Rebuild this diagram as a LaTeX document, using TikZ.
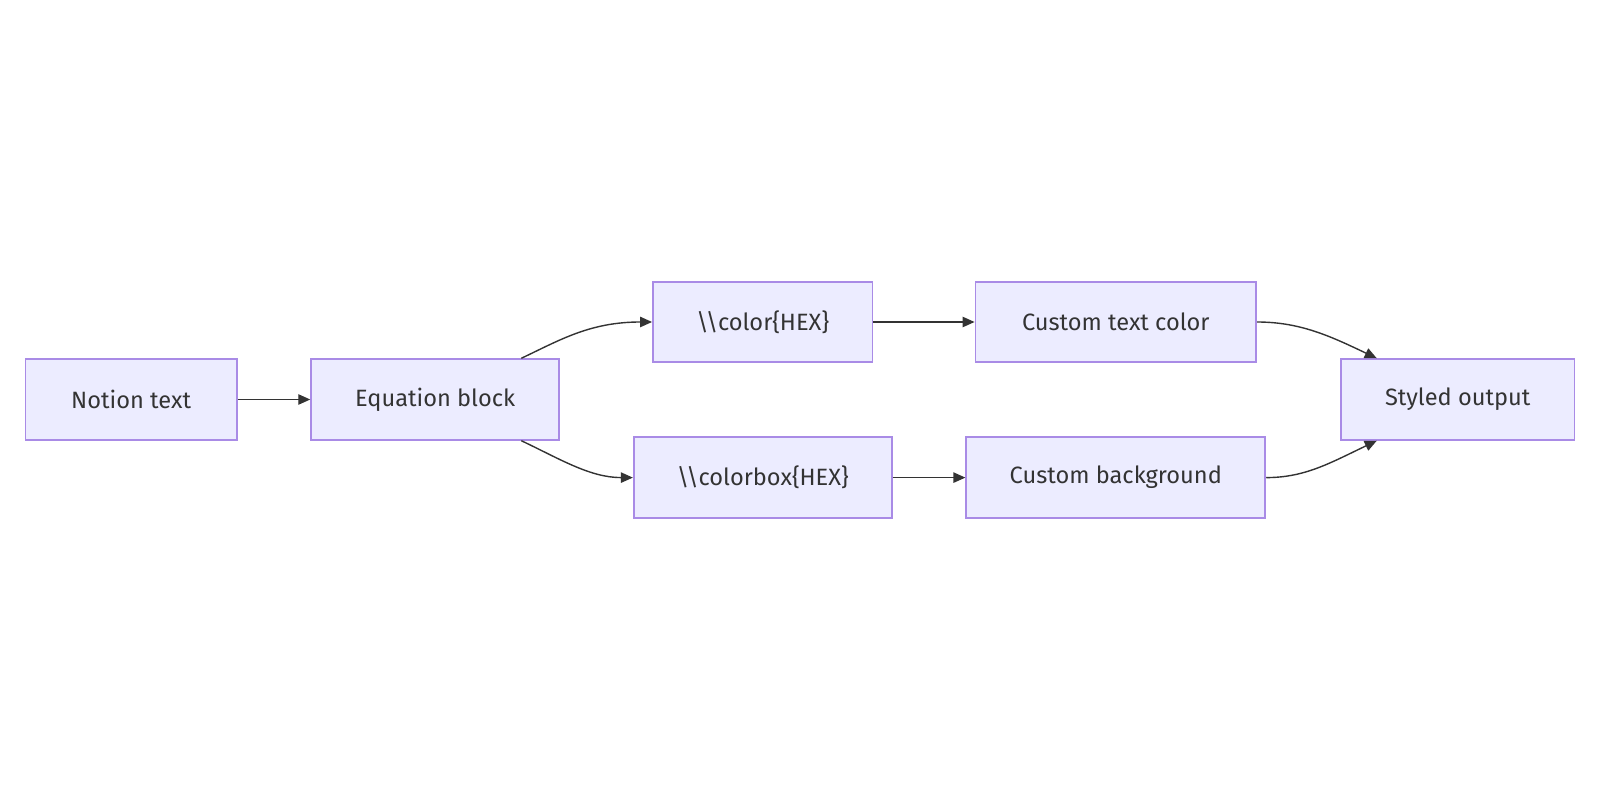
\documentclass[tikz,border=0pt]{standalone}
\usepackage{fontspec}
\setmainfont{Fira Sans}
\usetikzlibrary{arrows.meta}
\definecolor{boxfill}{HTML}{ECECFF}
\definecolor{boxline}{HTML}{A98BE6}
\definecolor{edgeline}{HTML}{333333}
\tikzset{
  stepbox/.style={draw=boxline, fill=boxfill, line width=0.045cm, minimum height=2.015cm,
    inner sep=0pt, font=\fontsize{16.8}{20}\selectfont, text=edgeline},
  flow/.style={draw=edgeline, line width=0.035cm, -{Triangle[length=0.3cm,width=0.26cm]}}
}
\begin{document}
\begin{tikzpicture}[x=0.025cm, y=-0.025cm]
        \useasboundingbox (0,0) rectangle (1600,800);

        % Boxes of the flow
        \node [stepbox, minimum width=5.28cm] (notion) at (131.1,399.5) {Notion text};%
        \node [stepbox, minimum width=6.2cm] (eqblock) at (435.2,399.5) {Equation block};%
        \node [stepbox, minimum width=5.485cm] (color) at (762.7,322) {\textbackslash\textbackslash color\{HEX\}};%
        \node [stepbox, minimum width=7.015cm] (textcolor) at (1115.8,322) {Custom text color};%
        \node [stepbox, minimum width=6.45cm] (colorbox) at (762.8,477.6) {\textbackslash\textbackslash colorbox\{HEX\}};%
        \node [stepbox, minimum width=7.475cm] (background) at (1115.8,477.6) {Custom background};%
        \node [stepbox, minimum width=5.84cm] (styled) at (1457.7,399.5) {Styled output};%

        % Straight arrows
        \draw [flow] (notion.east) -- (eqblock.west);%
        \draw [flow] (color.east) -- (textcolor.west);%
        \draw [flow] (colorbox.east) -- (background.west);%

        % Branching arrows
        \draw [flow] ([xshift=-0.97cm]eqblock.north east) .. controls (560,340) and (590,322) .. (color.west);%
        \draw [flow] ([xshift=-0.97cm]eqblock.south east) .. controls (560,459) and (590,477.6) .. (colorbox.west);%

        % Joining arrows
        \draw [flow] (textcolor.east) .. controls (1300,322) and (1330,336) .. ([xshift=0.92cm]styled.north west);%
        \draw [flow] (background.east) .. controls (1305,477.6) and (1330,463) .. ([xshift=0.92cm]styled.south west);%
\end{tikzpicture}
\end{document}
